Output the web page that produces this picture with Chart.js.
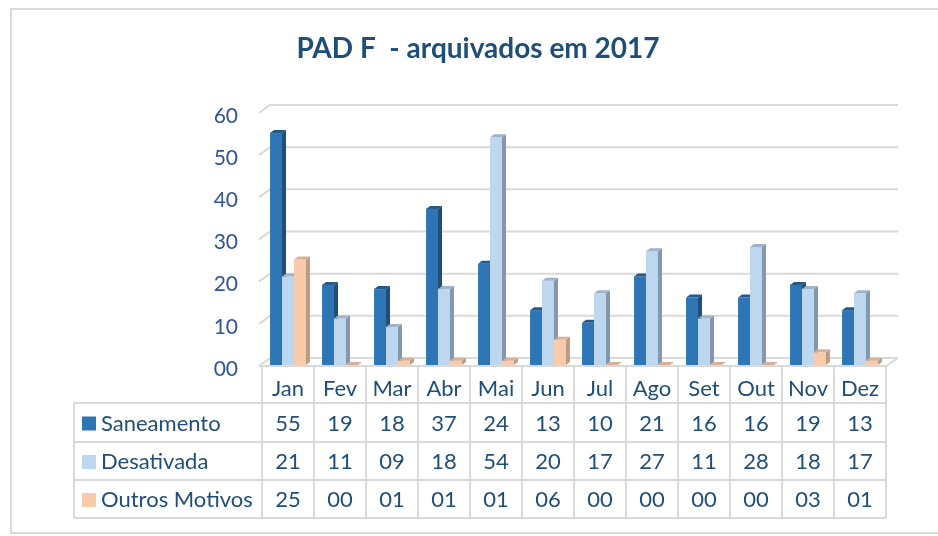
<!DOCTYPE html>
<html>
<head>
<meta charset="utf-8">
<script src="https://cdn.jsdelivr.net/npm/chart.js@4"></script>
<style>
  html, body { margin: 0; padding: 0; background: #fff; }
  #wrap { width: 938px; height: 536px; }
</style>
</head>
<body>
<div id="wrap"><canvas id="chart" width="938" height="536"></canvas></div>
<script>
const months = ['Jan','Fev','Mar','Abr','Mai','Jun','Jul','Ago','Set','Out','Nov','Dez']
const seriesNames = ['Saneamento','Desativada','Outros Motivos']
const saneamento = [55,19,18,37,24,13,10,21,16,16,19,13]
const desativada = [21,11,9,18,54,20,17,27,11,28,18,17]
const outrosMotivos = [25,0,1,1,1,6,0,0,0,0,3,1]
const yTicks = [0,10,20,30,40,50,60]
const title = 'PAD F  - arquivados em 2017'

// front / side / top colours for each series
const faces = [
  {front:'#2E75B6', side:'#1F4E79', top:'#24598A'},
  {front:'#BDD7EE', side:'#8497B0', top:'#9FB4CA'},
  {front:'#F8CBAD', side:'#BF9A82', top:'#D9B196'}
]
const FONT = 'Lato, "Open Sans", sans-serif'
const GRID = '#D9D9D9'
const TXT = '#1F4E79'

function pad2(v){ return String(v).padStart(2,'0') }

const bars3d = {
  id: 'bars3d',
  beforeDraw(chart){
    const c = chart.ctx
    c.save()
    c.fillStyle = '#fff'
    c.fillRect(0,0,chart.width,chart.height)
    c.strokeStyle = GRID
    c.lineWidth = 2
    c.beginPath()
    c.moveTo(938,9); c.lineTo(11,9); c.lineTo(11,533); c.lineTo(938,533)
    c.stroke()
    c.restore()
  },
  beforeDatasetsDraw(chart){
    const c = chart.ctx, a = chart.chartArea, y = chart.scales.y
    c.save()
    c.strokeStyle = GRID
    c.lineWidth = 2
    yTicks.forEach(t=>{
      const py = y.getPixelForValue(t)
      c.beginPath()
      c.moveTo(a.left-3, py+1)
      c.lineTo(a.left+8, py-7)
      c.lineTo(a.right+12, py-7)
      c.stroke()
    })
    // floor front edge
    c.beginPath()
    c.moveTo(a.left-3, a.bottom+1)
    c.lineTo(a.right, a.bottom+1)
    c.lineTo(a.right+12, a.bottom-7)
    c.stroke()
    c.restore()
  },
  afterDatasetsDraw(chart){
    const c = chart.ctx
    const dx = 4, dy = 3
    c.save()
    for(let i=0;i<months.length;i++){
      chart.data.datasets.forEach((ds,d)=>{
        const el = chart.getDatasetMeta(d).data[i]
        const p = el.getProps(['x','y','base','width'], true)
        const l = p.x - p.width/2, r = p.x + p.width/2
        const f = faces[d]
        c.fillStyle = f.front
        c.fillRect(l, p.y, r-l, p.base-p.y)
        c.fillStyle = f.side
        c.beginPath()
        c.moveTo(r,p.y); c.lineTo(r+dx,p.y-dy); c.lineTo(r+dx,p.base-dy); c.lineTo(r,p.base)
        c.closePath(); c.fill()
        c.fillStyle = f.top
        c.beginPath()
        c.moveTo(l,p.y); c.lineTo(l+dx,p.y-dy); c.lineTo(r+dx,p.y-dy); c.lineTo(r,p.y)
        c.closePath(); c.fill()
      })
    }
    c.restore()
  },
  afterDraw(chart){
    const c = chart.ctx, a = chart.chartArea, x = chart.scales.x
    c.save()
    // title
    c.fillStyle = TXT
    c.font = 'bold 28px ' + FONT
    c.textAlign = 'center'
    c.textBaseline = 'middle'
    c.fillText(title, 478, 49)

    // data table
    const rows = [366, 403, 442, 480, 518]
    const tableLeft = 74
    const step = (a.right - a.left) / months.length
    const colX = months.map((m,i)=> x.getPixelForValue(i))
    c.strokeStyle = GRID
    c.lineWidth = 2
    c.beginPath()
    for(let r=1;r<rows.length;r++){ c.moveTo(tableLeft, rows[r]); c.lineTo(a.right, rows[r]) }
    for(let i=0;i<=months.length;i++){
      const vx = a.left + i*step
      c.moveTo(vx, rows[0]); c.lineTo(vx, rows[4])
    }
    c.moveTo(tableLeft, rows[1]); c.lineTo(tableLeft, rows[4])
    c.stroke()

    c.font = '22px ' + FONT
    c.fillStyle = TXT
    c.textAlign = 'center'
    months.forEach((m,i)=> c.fillText(m, colX[i], 389))
    const vals = [saneamento, desativada, outrosMotivos]
    vals.forEach((arr,r)=>{
      const cy = (rows[r+1]+rows[r+2])/2 + 1
      c.fillStyle = faces[r].front
      c.fillRect(82, cy-7, 14, 14)
      c.fillStyle = TXT
      c.textAlign = 'left'
      c.fillText(seriesNames[r], 101, cy)
      c.textAlign = 'center'
      arr.forEach((v,i)=> c.fillText(pad2(v), colX[i], cy))
    })
    c.restore()
  }
}

const ctx = document.getElementById('chart').getContext('2d')
new Chart(ctx, {
  type: 'bar',
  data: {
    labels: months,
    datasets: [
      {label: seriesNames[0], data: saneamento, backgroundColor: 'rgba(0,0,0,0)'},
      {label: seriesNames[1], data: desativada, backgroundColor: 'rgba(0,0,0,0)'},
      {label: seriesNames[2], data: outrosMotivos, backgroundColor: 'rgba(0,0,0,0)'}
    ]
  },
  options: {
    responsive: false,
    animation: false,
    devicePixelRatio: 1,
    categoryPercentage: 0.69,
    barPercentage: 1,
    layout: { padding: {top: 112, right: 52, bottom: 171, left: 0} },
    plugins: { legend: {display: false}, tooltip: {enabled: false}, title: {display: false} },
    scales: {
      x: { display: false },
      y: {
        min: 0, max: 60,
        afterBuildTicks: s => { s.ticks = yTicks.map(v => ({value: v})) },
        afterFit: s => { s.width = 262 },
        grid: { display: false, drawTicks: false },
        border: { display: false },
        ticks: {
          padding: 24,
          labelOffset: 4,
          color: '#2F5597',
          font: { family: FONT, size: 21 },
          callback: v => pad2(v)
        }
      }
    }
  },
  plugins: [bars3d]
})
</script>
</body>
</html>
